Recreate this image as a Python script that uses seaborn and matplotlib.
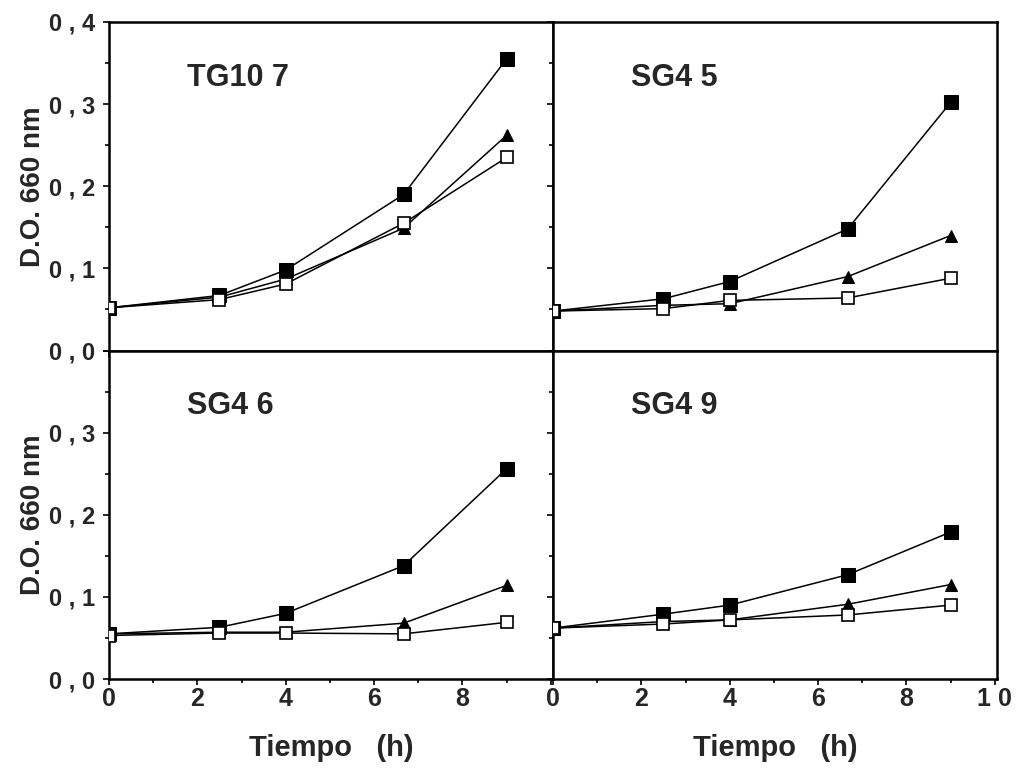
import matplotlib
matplotlib.use("Agg")
import matplotlib.pyplot as plt
from matplotlib.ticker import MultipleLocator, FixedLocator
import seaborn as sns

# ---- data ----
time_h = [0, 2.5, 4, 6.67, 9.0]
panels = ["TG10 7", "SG4 5", "SG4 6", "SG4 9"]

tg107_filled = [0.052, 0.067, 0.098, 0.190, 0.355]
tg107_tri    = [0.052, 0.065, 0.087, 0.149, 0.262]
tg107_open   = [0.052, 0.062, 0.081, 0.155, 0.235]

sg45_filled = [0.048, 0.063, 0.084, 0.148, 0.302]
sg45_tri    = [0.048, 0.055, 0.057, 0.090, 0.140]
sg45_open   = [0.048, 0.051, 0.061, 0.064, 0.088]

sg46_filled = [0.055, 0.063, 0.080, 0.138, 0.256]
sg46_tri    = [0.055, 0.057, 0.057, 0.068, 0.114]
sg46_open   = [0.053, 0.056, 0.056, 0.055, 0.069]

sg49_filled = [0.062, 0.079, 0.090, 0.127, 0.179]
sg49_tri    = [0.062, 0.070, 0.072, 0.091, 0.115]
sg49_open   = [0.062, 0.067, 0.072, 0.078, 0.090]

y_ticks = [0.0, 0.1, 0.2, 0.3, 0.4]
y_ticklabels_top = ["0 , 0", "0 , 1", "0 , 2", "0 , 3", "0 , 4"]
y_ticklabels_bottom = ["0 , 0", "0 , 1", "0 , 2", "0 , 3", ""]
x_ticks = [0, 2, 4, 6, 8, 10]
x_ticklabels_left = ["0", "2", "4", "6", "8", ""]
x_ticklabels_right = ["0", "2", "4", "6", "8", "1 0"]
ylabel = "D.O. 660 nm"
xlabel = "Tiempo   (h)"

series = [
    (tg107_filled, tg107_tri, tg107_open),
    (sg45_filled, sg45_tri, sg45_open),
    (sg46_filled, sg46_tri, sg46_open),
    (sg49_filled, sg49_tri, sg49_open),
]

sns.set_style("white")
plt.rcParams["font.family"] = ["Liberation Sans", "DejaVu Sans"]
plt.rcParams["font.weight"] = "bold"

fig, axes = plt.subplots(2, 2, figsize=(10.25, 7.74), dpi=100)
fig.subplots_adjust(left=0.1063, right=0.9727, top=0.9716, bottom=0.1227,
                    wspace=0, hspace=0)

for i, ax in enumerate(axes.flat):
    filled, tri, opn = series[i]
    sns.lineplot(x=time_h, y=filled, ax=ax, color="black", lw=1.1,
                 marker="s", markersize=10, markerfacecolor="black",
                 markeredgecolor="black", zorder=3)
    sns.lineplot(x=time_h, y=tri, ax=ax, color="black", lw=1.1,
                 marker="^", markersize=8.5, markerfacecolor="black",
                 markeredgecolor="black", zorder=4)
    sns.lineplot(x=time_h, y=opn, ax=ax, color="black", lw=1.1,
                 marker="s", markersize=8, markerfacecolor="white",
                 markeredgecolor="black", markeredgewidth=1.2, zorder=5)
    ax.set_xlim(0, 10.05)
    ax.set_ylim(0, 0.4)
    for s in ax.spines.values():
        s.set_visible(True)
        s.set_linewidth(1.8)
        s.set_color("black")
    ax.xaxis.set_major_locator(FixedLocator(x_ticks))
    ax.xaxis.set_minor_locator(MultipleLocator(1))
    ax.yaxis.set_major_locator(FixedLocator(y_ticks))
    ax.yaxis.set_minor_locator(MultipleLocator(0.05))
    ax.tick_params(which="both", direction="out", length=4, width=1.2,
                   color="black", bottom=True, left=True)
    ax.tick_params(which="minor", length=3)
    ax.text(0.175, 0.83, panels[i], transform=ax.transAxes, fontsize=22,
            fontweight="heavy", va="center", ha="left")
    col = i % 2
    row = i // 2
    if col == 0:
        ax.set_yticklabels(y_ticklabels_top if row == 0 else y_ticklabels_bottom,
                           fontsize=17, fontweight="bold")
        ax.set_ylabel(ylabel, fontsize=20, fontweight="bold", labelpad=2)
    else:
        ax.set_yticklabels([])
        ax.set_ylabel("")
    if row == 1:
        ax.set_xticklabels(x_ticklabels_left if col == 0 else x_ticklabels_right,
                           fontsize=18, fontweight="bold")
        ax.set_xlabel(xlabel, fontsize=21, fontweight="bold", labelpad=16)
    else:
        ax.set_xticklabels([])
        ax.set_xlabel("")
    ax.tick_params(axis="x", pad=2)
    ax.tick_params(axis="y", pad=6)

fig.savefig("out.png", dpi=100)
